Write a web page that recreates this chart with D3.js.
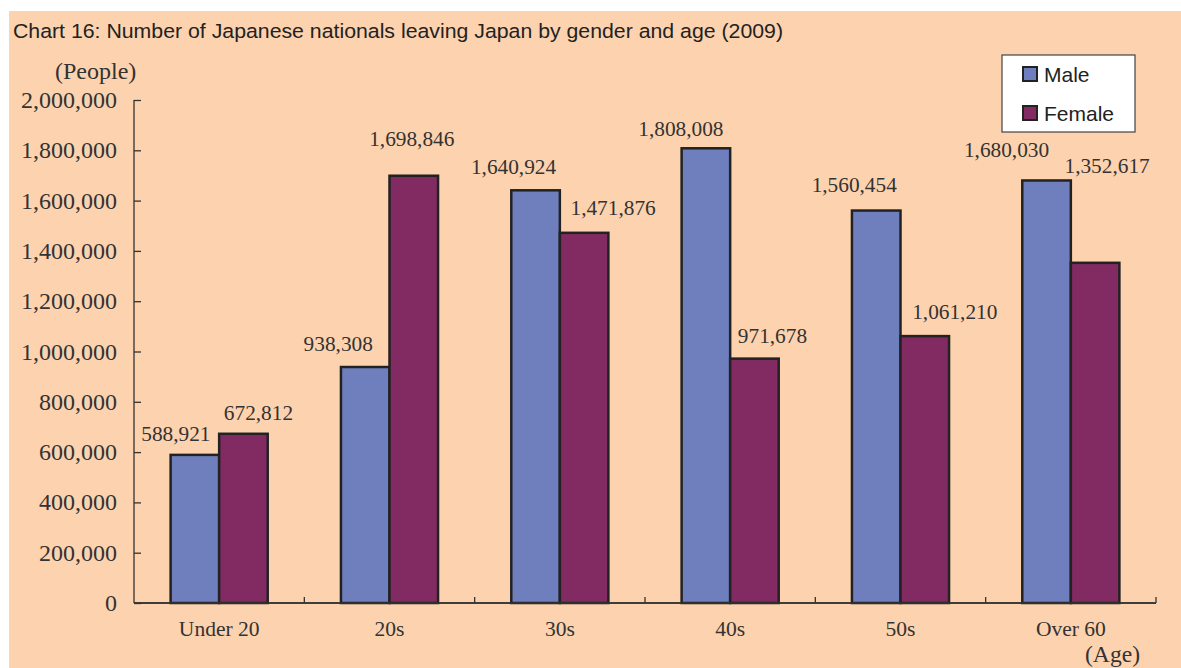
<!DOCTYPE html>
<html>
<head>
<meta charset="utf-8">
<script src="https://cdn.jsdelivr.net/npm/d3@7"></script>
<style>
  html, body { margin: 0; padding: 0; background: #ffffff; }
  svg { display: block; }
</style>
</head>
<body>
<svg id="chart" width="1181" height="668"></svg>
<script>
// Age groups and counts of departures by gender
const categories = ["Under 20", "20s", "30s", "40s", "50s", "Over 60"];
const seriesNames = ["Male", "Female"];
const maleValues = [588921, 938308, 1640924, 1808008, 1560454, 1680030];
const femaleValues = [672812, 1698846, 1471876, 971678, 1061210, 1352617];
const yTickValues = [0, 200000, 400000, 600000, 800000, 1000000, 1200000, 1400000, 1600000, 1800000, 2000000];

// Hand placement of the value labels: horizontal shift from the bar centre
// and gap between the label baseline and the top of the bar (px)
const maleLabelDx = [-19, -27, -22, -25, -22, -40];
const maleLabelGap = [14, 16, 16, 12, 19, 23];
const femaleLabelDx = [15, -2, 29, 18, 30, 12];
const femaleLabelGap = [14, 30, 18, 16, 17, 90];

const colors = { Male: "#6f7fbe", Female: "#822a62" };
const bg = "#fdd2ae";
const ink = "#333333";
const serif = "'Liberation Serif', 'Times New Roman', serif";
const sans = "'Liberation Sans', Arial, sans-serif";

const svg = d3.select("#chart");

// panel background
svg.append("rect").attr("x", 9).attr("y", 11).attr("width", 1172).attr("height", 657).attr("fill", bg);

// title
svg.append("text")
  .attr("x", 13).attr("y", 38)
  .attr("font-family", sans).attr("font-size", 20.5)
  .attr("textLength", 770).attr("lengthAdjust", "spacingAndGlyphs")
  .attr("fill", "#222")
  .text("Chart 16: Number of Japanese nationals leaving Japan by gender and age (2009)");

const plot = { left: 134, right: 1156, top: 100, bottom: 603 };

const x0 = d3.scaleBand().domain(categories).range([plot.left, plot.right]).paddingInner(0).paddingOuter(0);
const groupWidth = x0.bandwidth() * 0.57;
const x1 = d3.scaleBand().domain(seriesNames).range([-groupWidth / 2, groupWidth / 2]);
const y = d3.scaleLinear().domain([0, 2000000]).range([plot.bottom, plot.top]);

const fmt = d3.format(",");

// y axis with inward ticks
const yAxis = svg.append("g").attr("transform", `translate(${plot.left},0)`)
  .call(d3.axisRight(y).tickValues(yTickValues).tickSize(7).tickFormat(""));
yAxis.select(".domain").attr("d", `M0,${plot.top}V${plot.bottom}`).attr("stroke", ink).attr("stroke-width", 1.3);
yAxis.selectAll(".tick line").attr("stroke", ink).attr("stroke-width", 1.3);

svg.append("g").selectAll("text").data(yTickValues).join("text")
  .attr("x", 117).attr("y", d => y(d) + 8)
  .attr("text-anchor", "end")
  .attr("font-family", serif).attr("font-size", 24).attr("fill", ink)
  .text(d => fmt(d));

// x axis: ticks at category boundaries pointing up
const boundaries = categories.map(c => x0(c)).concat([plot.right]);
svg.append("line").attr("x1", plot.left).attr("x2", plot.right).attr("y1", plot.bottom).attr("y2", plot.bottom)
  .attr("stroke", ink).attr("stroke-width", 1.5);
svg.append("g").selectAll("line").data(boundaries.slice(1)).join("line")
  .attr("x1", d => d).attr("x2", d => d).attr("y1", plot.bottom).attr("y2", plot.bottom - 6)
  .attr("stroke", ink).attr("stroke-width", 1.3);

svg.append("g").selectAll("text").data(categories).join("text")
  .attr("x", d => x0(d) + x0.bandwidth() / 2).attr("y", 636)
  .attr("text-anchor", "middle")
  .attr("font-family", serif).attr("font-size", 21.5).attr("fill", ink)
  .text(d => d);

// bars
const series = [
  { name: "Male", values: maleValues, dx: maleLabelDx, gap: maleLabelGap },
  { name: "Female", values: femaleValues, dx: femaleLabelDx, gap: femaleLabelGap }
];

const rows = [];
series.forEach(s => s.values.forEach((v, i) => rows.push({ name: s.name, cat: categories[i], value: v, dx: s.dx[i], gap: s.gap[i] })));

const barX = d => x0(d.cat) + x0.bandwidth() / 2 + x1(d.name);

svg.append("g").selectAll("rect").data(rows).join("rect")
  .attr("x", barX)
  .attr("y", d => y(d.value))
  .attr("width", x1.bandwidth())
  .attr("height", d => y(0) - y(d.value))
  .attr("fill", d => colors[d.name])
  .attr("stroke", "#222")
  .attr("stroke-width", 2.5);

// redraw the baseline over the bar outlines
svg.append("line").attr("x1", plot.left).attr("x2", plot.right).attr("y1", plot.bottom).attr("y2", plot.bottom)
  .attr("stroke", ink).attr("stroke-width", 1.5);

svg.append("g").selectAll("text").data(rows).join("text")
  .attr("x", d => barX(d) + x1.bandwidth() / 2 + d.dx)
  .attr("y", d => y(d.value) - d.gap)
  .attr("text-anchor", "middle")
  .attr("font-family", serif).attr("font-size", 21.3).attr("fill", ink)
  .text(d => fmt(d.value));

// unit labels
svg.append("text").attr("x", 55).attr("y", 79)
  .attr("font-family", serif).attr("font-size", 24).attr("fill", ink).text("(People)");
svg.append("text").attr("x", 1085).attr("y", 662)
  .attr("font-family", serif).attr("font-size", 23.6).attr("fill", ink).text("(Age)");

// legend
const legend = svg.append("g");
legend.append("rect").attr("x", 1002).attr("y", 55).attr("width", 133).attr("height", 77)
  .attr("fill", "#ffffff").attr("stroke", "#444").attr("stroke-width", 1.2);
const legendRows = legend.selectAll("g").data(seriesNames).join("g")
  .attr("transform", (d, i) => `translate(1023,${67 + i * 39})`);
legendRows.append("rect").attr("x", 0).attr("y", 0).attr("width", 14).attr("height", 14)
  .attr("fill", d => colors[d]).attr("stroke", "#222").attr("stroke-width", 2);
legendRows.append("text").attr("x", 21).attr("y", 15)
  .attr("font-family", sans).attr("font-size", 21).attr("fill", "#222")
  .text(d => d);
</script>
</body>
</html>
